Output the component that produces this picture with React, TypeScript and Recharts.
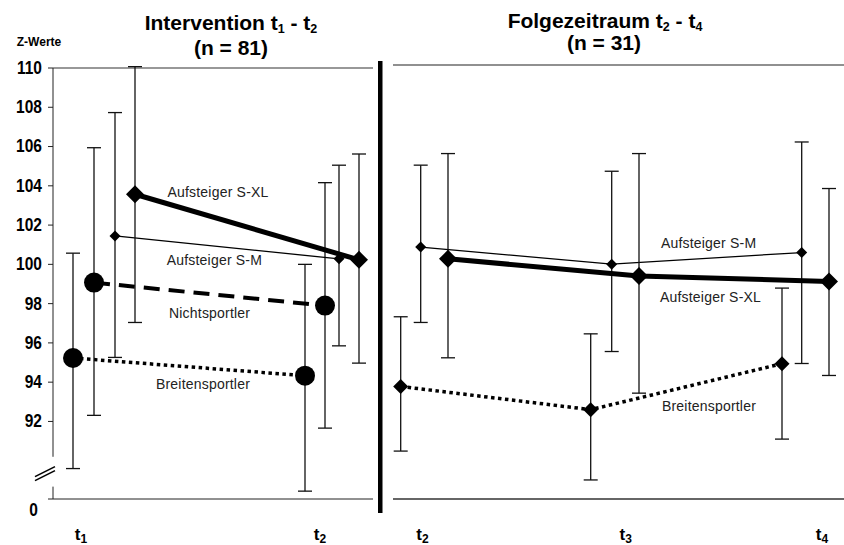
import React from 'react';
import { LineChart, Line, XAxis, YAxis, ErrorBar, ReferenceLine, ReferenceDot } from 'recharts';

// Z-Werte, Intervention t1 - t2 (n = 81), left panel
// x positions are in "slot" units of the time axis (each group is offset a little)
const leftTickPos = [1.4, 13.35];
const leftTickSub = ['1', '2'];

const leftBreitX = [1.0, 12.6];
const leftBreit = [95.23, 94.33];
const leftBreitLow = [89.6, 88.45];
const leftBreitHigh = [100.57, 100.0];

const leftNichtX = [2.05, 13.6];
const leftNicht = [99.07, 97.9];
const leftNichtLow = [92.31, 91.66];
const leftNichtHigh = [105.94, 104.16];

const leftSMX = [3.1, 14.3];
const leftSM = [101.45, 100.28];
const leftSMLow = [95.26, 95.85];
const leftSMHigh = [107.73, 105.05];

const leftSXLX = [4.1, 15.3];
const leftSXL = [103.57, 100.23];
const leftSXLLow = [97.04, 94.97];
const leftSXLHigh = [110.07, 105.62];

// Folgezeitraum t2 - t4 (n = 31), right panel
const rightTickPos = [1.475, 11.64, 21.475];
const rightTickSub = ['2', '3', '4'];

const rightBreitX = [0.385, 9.885, 19.45];
const rightBreit = [93.78, 92.6, 94.94];
const rightBreitLow = [90.49, 89.02, 91.1];
const rightBreitHigh = [97.33, 96.46, 98.79];

const rightSMX = [1.385, 10.935, 20.435];
const rightSM = [100.88, 100.01, 100.6];
const rightSMLow = [97.04, 95.56, 94.95];
const rightSMHigh = [105.05, 104.74, 106.23];

const rightSXLX = [2.75, 12.3, 21.8];
const rightSXL = [100.28, 99.41, 99.13];
const rightSXLLow = [95.24, 93.44, 94.34];
const rightSXLHigh = [105.64, 105.64, 103.86];

const yTicks = [92, 94, 96, 98, 100, 102, 104, 106, 108, 110];
const leftYMin = 88.05;
const leftYMax = 110;
const rightYMax = 110.15;

// series name annotations: [text, x, y]
const leftNames: [string, number, number][] = [
  ['Aufsteiger S-XL', 8.25, 103.69],
  ['Aufsteiger S-M', 8.07, 100.23],
  ['Nichtsportler', 7.83, 97.53],
  ['Breitensportler', 7.5, 93.92],
];
const rightNames: [string, number, number][] = [
  ['Aufsteiger S-M', 15.78, 101.09],
  ['Aufsteiger S-XL', 15.875, 98.35],
  ['Breitensportler', 15.8, 92.8],
];

const FONT = "'Liberation Sans', Arial, sans-serif";

const rows = (xs: number[], ys: number[], lo: number[], hi: number[]) =>
  xs.map((x, i) => ({ x, y: ys[i], err: [ys[i] - lo[i], hi[i] - ys[i]] }));

const circleDot = (r: number) => (p: any) =>
  <circle key={`c${p.index}`} cx={p.cx} cy={p.cy} r={r} fill="#000" />;

const diamondDot = (s: number) => (p: any) => (
  <polygon
    key={`d${p.index}`}
    points={`${p.cx},${p.cy - s} ${p.cx + s},${p.cy} ${p.cx},${p.cy + s} ${p.cx - s},${p.cy}`}
    fill="#000"
  />
);

const YTick = (p: any) => {
  const v = p.payload.value;
  const zero = v === leftYMin;
  return (
    <g transform={`translate(${p.x - (zero ? 4 : 0)},${p.y + (zero ? 11 : 0)}) scale(0.84,1)`}>
      <text x={0} y={0} textAnchor="end" dominantBaseline="central" fontSize={18.5} fontWeight="bold" fill="#000" fontFamily={FONT}>
        {zero ? '0' : v}
      </text>
    </g>
  );
};

const xTick = (subs: string[], ticks: number[]) => (p: any) => {
  const i = ticks.indexOf(p.payload.value);
  return (
    <text x={p.x} y={p.y + 41} textAnchor="middle" fontSize={17} fontWeight="bold" fill="#000" fontFamily={FONT}>
      t<tspan dy={3} fontSize={12}>{subs[i]}</tspan>
    </text>
  );
};

const nameShape = (text: string) => (p: any) => (
  <text x={p.cx} y={p.cy} textAnchor="middle" dominantBaseline="central" fontSize={14} letterSpacing={0.2} fill="#222" fontFamily={FONT}>
    {text}
  </text>
);

const breakShape = (p: any) => (
  <g stroke="#000" strokeWidth={1.6}>
    <line x1={p.cx - 18} y1={p.cy + 6} x2={p.cx + 2} y2={p.cy - 4} />
    <line x1={p.cx - 18} y1={p.cy + 2} x2={p.cx + 2} y2={p.cy - 8} />
  </g>
);

const err = <ErrorBar dataKey="err" direction="y" width={7} stroke="#111" strokeWidth={1.3} />;

export default function App() {
  return (
    <div style={{ position: 'absolute', left: 0, top: 0, width: 844, height: 545, background: '#fff' }}>
      <div style={{ position: 'absolute', left: 0, top: 0 }}>
        <LineChart width={380} height={545} margin={{ top: 68, right: 7, left: 8, bottom: 0 }}>
          <XAxis
            type="number"
            dataKey="x"
            domain={[0, 16]}
            ticks={leftTickPos}
            tick={xTick(leftTickSub, leftTickPos)}
            tickLine={false}
            tickSize={0}
            tickMargin={0}
            axisLine={{ stroke: '#222' }}
            height={46}
            allowDataOverflow
          />
          <YAxis
            type="number"
            domain={[leftYMin, leftYMax]}
            ticks={[leftYMin, ...yTicks]}
            tick={YTick}
            tickSize={5}
            tickMargin={6}
            tickLine={{ stroke: '#222' }}
            axisLine={false}
            width={45}
            allowDataOverflow
          />
          <ReferenceLine y={leftYMax} stroke="#333" strokeWidth={1.2} />
          <ReferenceLine segment={[{ x: 0, y: leftYMax }, { x: 0, y: 90.2 }]} stroke="#222" ifOverflow="visible" />
          <ReferenceLine segment={[{ x: 0, y: 88.68 }, { x: 0, y: leftYMin }]} stroke="#222" ifOverflow="visible" />
          <ReferenceDot x={0} y={89.29} r={0} shape={breakShape} ifOverflow="visible" />
          <Line data={rows(leftBreitX, leftBreit, leftBreitLow, leftBreitHigh)} dataKey="y" stroke="#000" strokeWidth={3.5} strokeDasharray="3.5 3.5" dot={circleDot(10)} activeDot={false} isAnimationActive={false}>
            {err}
          </Line>
          <Line data={rows(leftNichtX, leftNicht, leftNichtLow, leftNichtHigh)} dataKey="y" stroke="#000" strokeWidth={4} strokeDasharray="16 9" dot={circleDot(10)} activeDot={false} isAnimationActive={false}>
            {err}
          </Line>
          <Line data={rows(leftSMX, leftSM, leftSMLow, leftSMHigh)} dataKey="y" stroke="#000" strokeWidth={1.3} dot={diamondDot(5.5)} activeDot={false} isAnimationActive={false}>
            {err}
          </Line>
          <Line data={rows(leftSXLX, leftSXL, leftSXLLow, leftSXLHigh)} dataKey="y" stroke="#000" strokeWidth={5} dot={diamondDot(9)} activeDot={false} isAnimationActive={false}>
            {err}
          </Line>
          {leftNames.map(([t, x, y]) => (
            <ReferenceDot key={t} x={x} y={y} r={0} shape={nameShape(t)} ifOverflow="visible" />
          ))}
        </LineChart>
      </div>

      <div style={{ position: 'absolute', left: 380, top: 0 }}>
        <LineChart width={464} height={545} margin={{ top: 65, right: 0, left: 13, bottom: 0 }}>
          <XAxis
            type="number"
            dataKey="x"
            domain={[0, 22.55]}
            ticks={rightTickPos}
            tick={xTick(rightTickSub, rightTickPos)}
            tickLine={false}
            tickSize={0}
            tickMargin={0}
            axisLine={{ stroke: '#333', strokeWidth: 1.3 }}
            height={46}
            allowDataOverflow
          />
          <YAxis type="number" domain={[leftYMin, rightYMax]} hide allowDataOverflow />
          <ReferenceLine y={rightYMax} stroke="#222" strokeWidth={1.2} />
          <Line data={rows(rightBreitX, rightBreit, rightBreitLow, rightBreitHigh)} dataKey="y" stroke="#000" strokeWidth={3.5} strokeDasharray="3.5 3.5" dot={diamondDot(7.5)} activeDot={false} isAnimationActive={false}>
            {err}
          </Line>
          <Line data={rows(rightSMX, rightSM, rightSMLow, rightSMHigh)} dataKey="y" stroke="#000" strokeWidth={1.3} dot={diamondDot(5.5)} activeDot={false} isAnimationActive={false}>
            {err}
          </Line>
          <Line data={rows(rightSXLX, rightSXL, rightSXLLow, rightSXLHigh)} dataKey="y" stroke="#000" strokeWidth={5} dot={diamondDot(9)} activeDot={false} isAnimationActive={false}>
            {err}
          </Line>
          {rightNames.map(([t, x, y]) => (
            <ReferenceDot key={t} x={x} y={y} r={0} shape={nameShape(t)} ifOverflow="visible" />
          ))}
        </LineChart>
      </div>

      <svg width={844} height={545} style={{ position: 'absolute', left: 0, top: 0, pointerEvents: 'none' }} fontFamily={FONT}>
        <text x={231} y={30} textAnchor="middle" fontSize={21} fontWeight="bold" fill="#000">
          Intervention t<tspan dy={3} fontSize={12.5}>1</tspan><tspan dy={-3}> - t</tspan><tspan dy={3} fontSize={12.5}>2</tspan>
        </text>
        <text x={231} y={55} textAnchor="middle" fontSize={21} fontWeight="bold" fill="#000">(n = 81)</text>
        <text x={605} y={28} textAnchor="middle" fontSize={21} fontWeight="bold" fill="#000">
          Folgezeitraum t<tspan dy={3} fontSize={12.5}>2</tspan><tspan dy={-3}> - t</tspan><tspan dy={3} fontSize={12.5}>4</tspan>
        </text>
        <text x={604} y={50} textAnchor="middle" fontSize={21} fontWeight="bold" fill="#000">(n = 31)</text>
        <text x={39} y={46} textAnchor="middle" fontSize={12} fontWeight="bold" fill="#000">Z-Werte</text>
        <rect x={378} y={61} width={4.5} height={452} fill="#000" />
      </svg>
    </div>
  );
}
